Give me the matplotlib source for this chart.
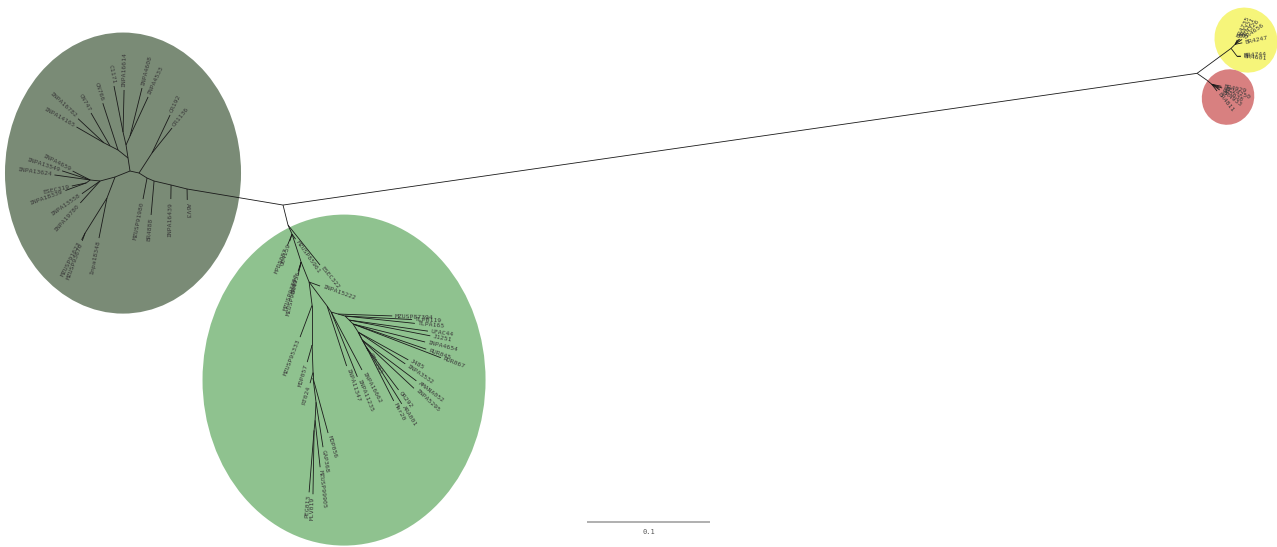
import math
import matplotlib
matplotlib.use("Agg")
import matplotlib.pyplot as plt
from matplotlib.patches import Ellipse

# ---------------------------------------------------------------------------
# Unrooted tree: (child, parent, branch length in substitutions/site)
# ---------------------------------------------------------------------------
backbone_edges = [
    ("nR", "root", 0.7508),
    ("nA", "root", 0.0791),
    ("nG1", "root", 0.0168),
]

dark_edges = [
    ("A6V3", "nA", 0.0089),
    ("nB", "nA", 0.0134),
    ("INPA16439", "nB", 0.0114),
    ("nC", "nB", 0.0142),
    ("BR4888", "nC", 0.0277),
    ("nD", "nC", 0.0062),
    ("MZUSP91980", "nD", 0.0174),
    ("nE", "nD", 0.0077),
    ("nCR", "nE", 0.0194),
    ("CR192", "nCR", 0.0342),
    ("CR1136", "nCR", 0.0260),
    ("nF", "nE", 0.0075),
    ("nU", "nF", 0.0107),
    ("nUa", "nU", 0.0107),
    ("nUa1", "nUa", 0.0108),
    ("C1171", "nUa1", 0.0381),
    ("INPA16614", "nUa1", 0.0342),
    ("nUa2", "nUa", 0.0080),
    ("INPA4608", "nUa2", 0.0402),
    ("INPA4533", "nUa2", 0.0350),
    ("nUb", "nU", 0.0104),
    ("CN766", "nUb", 0.0400),
    ("nUb1", "nUb", 0.0073),
    ("CN747", "nUb1", 0.0309),
    ("nUb2", "nUb1", 0.0055),
    ("INPA16782", "nUb2", 0.0288),
    ("INPA14165", "nUb2", 0.0258),
    ("nL", "nF", 0.0131),
    ("nL1", "nL", 0.0126),
    ("nL2", "nL1", 0.0081),
    ("INPA13624", "nL2", 0.0293),
    ("INPA13549", "nL2", 0.0240),
    ("INPA4659", "nL2", 0.0160),
    ("nL3", "nL2", 0.0040),
    ("ESEC319", "nL3", 0.0120),
    ("INPA18339", "nL3", 0.0180),
    ("INPA13558", "nL1", 0.0180),
    ("INPA19780", "nL1", 0.0240),
    ("nL5", "nL", 0.0183),
    ("Inpa18348", "nL5", 0.0332),
    ("nMZ", "nL5", 0.0336),
    ("MZUSP91623", "nMZ", 0.0062),
    ("MZUSP93676", "nMZ", 0.0067),
]

green_edges = [
    ("ESEC322", "nG1", 0.0416),
    ("nG2", "nG1", 0.0080),
    ("MZUSP85961", "nG2", 0.0050),
    ("OB4159", "nG2", 0.0060),
    ("MPD5087", "nG2", 0.0100),
    ("nG2b", "nG2", 0.0239),
    ("BR4956", "nG2b", 0.0050),
    ("MZUSP93897", "nG2b", 0.0080),
    ("MZUSP96087", "nG2b", 0.0110),
    ("nG3", "nG2b", 0.0175),
    ("INPA15222", "nG3", 0.0095),
    ("nV1", "nG3", 0.0189),
    ("MZUSP95333", "nV1", 0.0278),
    ("nV2", "nV1", 0.0325),
    ("MOP057", "nV2", 0.0144),
    ("nV3", "nV2", 0.0220),
    ("RT024", "nV3", 0.0093),
    ("nV4", "nV3", 0.0049),
    ("MOP056", "nV4", 0.0463),
    ("nV5", "nV4", 0.0197),
    ("GAP368", "nV5", 0.0370),
    ("nV6", "nV5", 0.0147),
    ("MZUSP99905", "nV6", 0.0384),
    ("nV7", "nV6", 0.0082),
    ("PEG013", "nV7", 0.0506),
    ("MLV019", "nV7", 0.0520),
    ("nRg", "nG3", 0.0244),
    ("INPA11347", "nRg", 0.0513),
    ("nRg1", "nRg", 0.0059),
    ("INPA11235", "nRg1", 0.0568),
    ("INPA16662", "nRg1", 0.0533),
    ("nRg2", "nRg1", 0.0059),
    ("MZUSP87394", "nRg2", 0.0440),
    ("nRg3", "nRg2", 0.0059),
    ("TLPB119", "nRg3", 0.0545),
    ("TLPA165", "nRg3", 0.0570),
    ("nRg4", "nRg3", 0.0046),
    ("UFAC44", "nRg4", 0.0647),
    ("J1251", "nRg4", 0.0672),
    ("nRg5", "nRg4", 0.0046),
    ("INPA4654", "nRg5", 0.0603),
    ("RUR045", "nRg5", 0.0628),
    ("RUR067", "nRg5", 0.0764),
    ("nRg6", "nRg5", 0.0077),
    ("J485", "nRg6", 0.0466),
    ("INPA3532", "nRg6", 0.0462),
    ("OPL293", "nRg6", 0.0175),
    ("nRg7", "nRg6", 0.0073),
    ("AMANA052", "nRg7", 0.0551),
    ("INPA5295", "nRg7", 0.0575),
    ("nRg8", "nRg7", 0.0066),
    ("OR292", "nRg8", 0.0436),
    ("ARA001", "nRg8", 0.0544),
    ("Mar20", "nRg8", 0.0491),
]

yellow_edges = [
    ("nY0", "nR", 0.0343),
    ("nY1", "nY0", 0.0046),
    ("BR4735", "nY1", 0.0040),
    ("BR4321", "nY1", 0.0050),
    ("BR4326", "nY1", 0.0060),
    ("BR4656", "nY1", 0.0070),
    ("BR4247", "nY1", 0.0060),
    ("nY2", "nY0", 0.0081),
    ("BR4744", "nY2", 0.0030),
    ("BR4601", "nY2", 0.0030),
]

red_edges = [
    ("nD0", "nR", 0.0099),
    ("nD1", "nD0", 0.0050),
    ("BR4929", "nD1", 0.0080),
    ("BEV4250", "nD1", 0.0090),
    ("BR5038", "nD1", 0.0070),
    ("BR4933", "nD1", 0.0080),
    ("BR4811", "nD1", 0.0070),
]

scale_bar_length = 0.1

# ---------------------------------------------------------------------------
# Layout: drawing direction of each branch (degrees, counter-clockwise)
# ---------------------------------------------------------------------------
backbone_angles = [8.2, 170.5, -76]
dark_angles = [
    -89, 166, -91, 166.8, -95, 157, -100.8, 148, 57, 64.6, 51.3, 167.5,
    98.7, 98.7, 103, 101.1, 88.6, 66, 76, 65.2, 141.3, 108, 153, 120, 153,
    137, 150, -158.2, -165, 174, 172, 162, 153, -143, -168, -160, -145, -132,
    -111, -101.3, -122, -117, -110,
]
green_angles = [
    -51.3, -66, -55, -108, -112, -72, -104, -108, -103, -68.2, -20, -82.6,
    -110.6, -90, -106, -88, -105, -90, -74.7, -82.9, -81.2, -93, -83.9,
    -95.7, -94.6, -91, -53.1, -72, -56, -68, -62, -16, -2, -16, -3, -6, -45,
    -8, -11, -45, -14, -19, -21, -58, -29, -34, -62, -63, -37, -43, -60, -53,
    -58, -63,
]
yellow_angles = [36.3, 45, 64, 55, 46, 35, 12, -53, 3, -5]
red_angles = [-35, -40, -12, -20, -28, -36, -52]

clades = [
    (backbone_edges, backbone_angles),
    (dark_edges, dark_angles),
    (green_edges, green_angles),
    (yellow_edges, yellow_angles),
    (red_edges, red_angles),
]

# ---------------------------------------------------------------------------
fig = plt.figure(figsize=(12.77, 5.47), dpi=100)
ax = fig.add_axes([0, 0, 1, 1])
ax.set_xlim(-0.2301, 0.8081)
ax.set_ylim(-0.2780, 0.1667)
ax.axis("off")

# Clade shading
ax.add_patch(Ellipse((-0.1301, 0.0260), 0.1919, 0.2285,
                     facecolor="#7a8b76", edgecolor="none", zorder=0))
ax.add_patch(Ellipse((0.0496, -0.1423), 0.2301, 0.2691,
                     facecolor="#8fc28f", edgecolor="none", zorder=0))
ax.add_patch(Ellipse((0.7829, 0.1341), 0.0504, 0.0537, angle=30,
                     facecolor="#f6f57a", edgecolor="none", zorder=0))
ax.add_patch(Ellipse((0.7683, 0.0878), 0.0423, 0.0455, angle=-20,
                     facecolor="#d88080", edgecolor="none", zorder=0))

parents = {p for edges, _ in clades for _, p, _ in edges}
pos = {"root": (0.0, 0.0)}
label_gap = 0.0022
label_font = dict(family="DejaVu Sans Mono", size=4.6, color="#3b3b3b")

for edges, angles in clades:
    for (child, parent, length), ang in zip(edges, angles):
        px, py = pos[parent]
        a = math.radians(ang)
        cx, cy = px + length * math.cos(a), py + length * math.sin(a)
        pos[child] = (cx, cy)
        ax.plot([px, cx], [py, cy], color="#1a1a1a", lw=0.6,
                solid_capstyle="butt", zorder=2)
        if child in parents:
            continue
        tx, ty = cx + label_gap * math.cos(a), cy + label_gap * math.sin(a)
        if math.cos(a) >= -1e-9:
            rot, ha = ang, "left"
        else:
            rot, ha = ang - 180, "right"
        ax.text(tx, ty, child, rotation=rot, rotation_mode="anchor",
                ha=ha, va="center", zorder=3, **label_font)

# Scale bar
sb_x0, sb_y = 0.2472, -0.2577
ax.plot([sb_x0, sb_x0 + scale_bar_length], [sb_y, sb_y],
        color="#9a9a9a", lw=1.1, solid_capstyle="butt")
ax.text(sb_x0 + scale_bar_length / 2, sb_y - 0.0085, f"{scale_bar_length:g}",
        ha="center", va="center", family="DejaVu Sans Mono", size=5,
        color="#555555")

fig.savefig("out.png", dpi=100)
